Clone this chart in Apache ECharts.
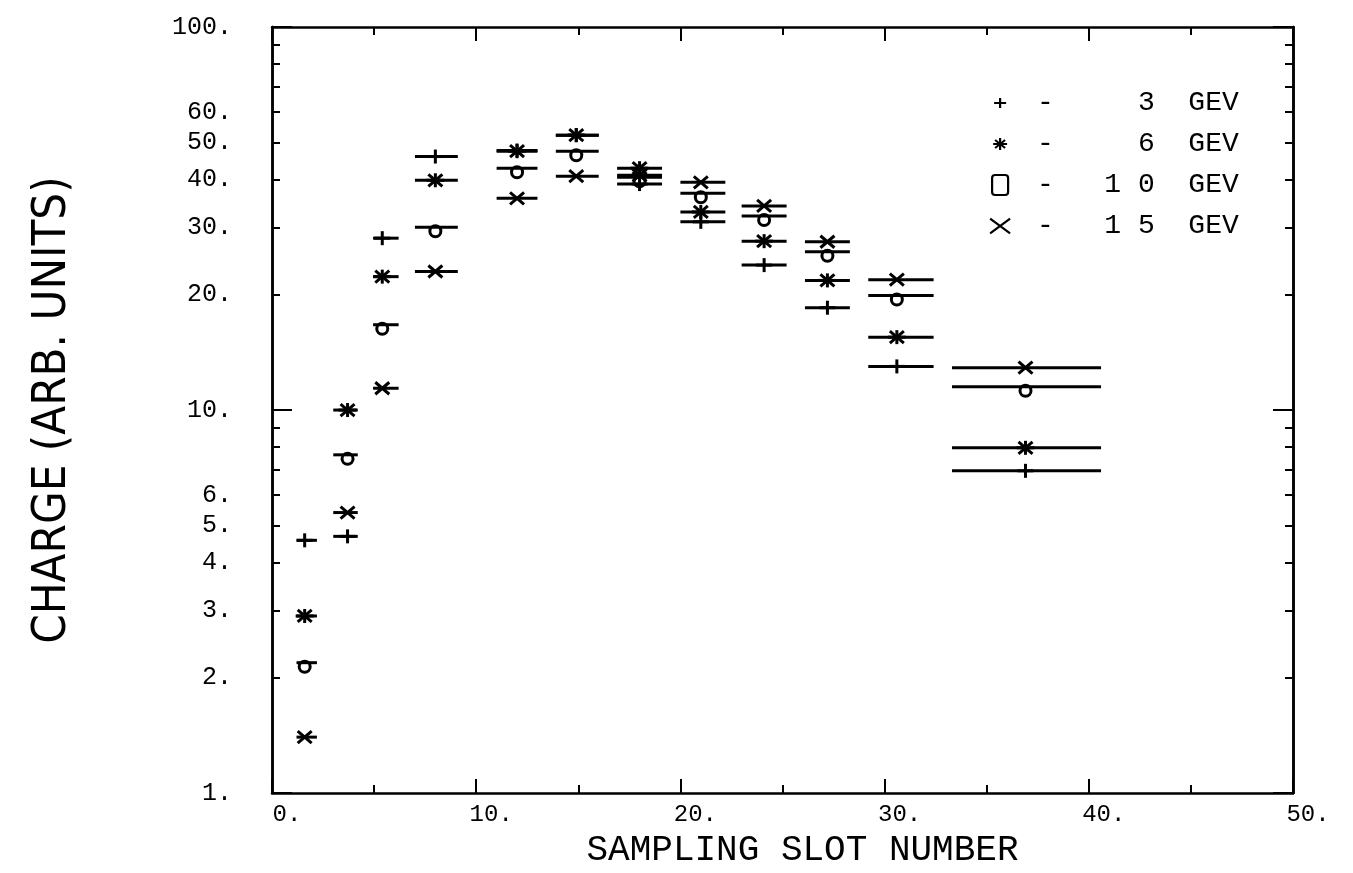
<!DOCTYPE html>
<html>
<head>
<meta charset="utf-8">
<script src="https://cdn.jsdelivr.net/npm/echarts@6/dist/echarts.min.js"></script>
<style>
  html, body { margin: 0; padding: 0; background: #fff; }
  #chart { width: 1353px; height: 873px; }
</style>
</head>
<body>
<div id="chart"></div>
<script>
// ---- data ----
const slotCenter = [1.6, 3.7, 5.4, 8.0, 12.0, 14.9, 18.0, 21.0, 24.1, 27.2, 30.6, 36.9];
const slotLow    = [1.2, 3.0, 4.95, 7.0, 11.0, 13.9, 16.9, 20.0, 23.0, 26.1, 29.2, 33.3];
const slotHigh   = [2.2, 4.2, 6.2, 9.1, 13.0, 16.0, 19.1, 22.2, 25.2, 28.3, 32.4, 40.6];

const charge3GeV  = [4.57, 4.68, 28.1, 45.9, 47.6, 52.2, 38.9, 31.0, 23.9, 18.5, 13.0, 6.94];
const charge6GeV  = [2.90, 10.0, 22.3, 39.8, 47.4, 52.2, 42.8, 32.9, 27.6, 21.8, 15.5, 7.97];
const charge10GeV = [2.19, 7.64, 16.7, 30.0, 42.8, 47.4, 40.5, 36.8, 32.1, 25.9, 19.9, 11.5];
const charge15GeV = [1.40, 5.40, 11.4, 23.0, 35.7, 40.8, 41.0, 39.3, 34.1, 27.5, 21.9, 12.9];

const seriesNames  = ['3 GEV', '6 GEV', '10 GEV', '15 GEV'];
const legendTexts  = ['-     3  GEV', '-     6  GEV', '-   1 0  GEV', '-   1 5  GEV'];
const markerKinds  = ['plus', 'star', 'circle', 'cross'];

const yLabelValues = [1, 2, 3, 4, 5, 6, 10, 20, 30, 40, 50, 60, 100];
const yMinorTicks  = [2, 3, 4, 5, 6, 7, 8, 9, 20, 30, 40, 50, 60, 70, 80, 90];

// ---- chart ----
const chart = echarts.init(document.getElementById('chart'), null, { renderer: 'canvas' });
const LW = 3;
const INK = '#000';

function makeData(vals) {
  return vals.map((v, i) => [slotCenter[i], v, slotLow[i], slotHigh[i]]);
}

function markerShapes(kind, x, y) {
  const st = { stroke: INK, lineWidth: LW, fill: 'none' };
  const L = (x1, y1, x2, y2) => ({ type: 'line', shape: { x1, y1, x2, y2 }, style: st });
  if (kind === 'plus') {
    return [L(x - 8, y, x + 8, y), L(x, y - 7, x, y + 7)];
  } else if (kind === 'star') {
    return [L(x, y - 7, x, y + 7), L(x - 7, y - 6, x + 7, y + 6), L(x - 7, y + 6, x + 7, y - 6), L(x - 9, y, x + 9, y)];
  } else if (kind === 'circle') {
    return [{ type: 'circle', shape: { cx: x, cy: y + 4, r: 5.5 }, style: st }];
  } else {
    return [L(x - 7, y - 6, x + 7, y + 6), L(x - 7, y + 6, x + 7, y - 6)];
  }
}

function makeRender(kind) {
  return function (params, api) {
    const p = api.coord([api.value(0), api.value(1)]);
    const a = api.coord([api.value(2), api.value(1)]);
    const b = api.coord([api.value(3), api.value(1)]);
    const children = [{
      type: 'line',
      shape: { x1: a[0], y1: p[1], x2: b[0], y2: p[1] },
      style: { stroke: INK, lineWidth: LW }
    }].concat(markerShapes(kind, p[0], p[1]));
    return { type: 'group', children };
  };
}

const allValues = [charge3GeV, charge6GeV, charge10GeV, charge15GeV];
const series = allValues.map((vals, k) => ({
  name: seriesNames[k],
  type: 'custom',
  coordinateSystem: 'cartesian2d',
  xAxisIndex: 0,
  yAxisIndex: 0,
  renderItem: makeRender(markerKinds[k]),
  encode: { x: [0, 2, 3], y: 1 },
  itemStyle: { color: INK },
  data: makeData(vals),
  silent: true,
  clip: false
}));

const legendIcons = [
  'path://M0,0M20,20M4,10L16,10M10,5L10,15',
  'path://M0,0M20,20M10,4L10,16M5,6L15,14M5,14L15,6M3,10L17,10',
  'path://M3,0L13,0Q16,0 16,3L16,17Q16,20 13,20L3,20Q0,20 0,17L0,3Q0,0 3,0Z',
  'path://M0,2L22,18M0,18L22,2'
];

const monoFont = '"Liberation Mono", "DejaVu Sans Mono", monospace';
const axisLineStyle = { color: INK, width: 2.5 };

const logAxisBase = {
  type: 'log', logBase: 10, min: 1, max: 100,
  splitLine: { show: false },
  axisLine: { show: true, lineStyle: axisLineStyle }
};

const option = {
  backgroundColor: '#fff',
  animation: false,
  grid: { left: 272, right: 60, top: 27, bottom: 76, containLabel: false },
  legend: {
    orient: 'vertical',
    left: 984,
    top: 84,
    itemWidth: 20,
    itemHeight: 20,
    itemGap: 13,
    selectedMode: false,
    textStyle: { fontFamily: monoFont, fontSize: 28, color: INK, padding: [0, 0, 0, 22] },
    formatter: function (name) { return legendTexts[seriesNames.indexOf(name)]; },
    data: seriesNames.map((n, k) => ({
      name: n,
      icon: legendIcons[k],
      itemStyle: { color: 'transparent', borderColor: INK, borderWidth: 2.2 }
    }))
  },
  xAxis: [{
    type: 'value', min: 0, max: 50, interval: 10,
    position: 'bottom',
    name: 'SAMPLING SLOT NUMBER',
    nameLocation: 'middle',
    nameGap: 36,
    nameTextStyle: { fontFamily: monoFont, fontSize: 36, color: INK, padding: [0, 0, 0, 40] },
    axisLine: { show: true, lineStyle: axisLineStyle, onZero: false },
    axisTick: { show: true, inside: true, length: 14, lineStyle: { color: INK, width: 2 } },
    minorTick: { show: true, splitNumber: 2, length: 8, lineStyle: { color: INK, width: 2 } },
    splitLine: { show: false },
    axisLabel: {
      formatter: v => v + '.', fontFamily: monoFont, fontSize: 24, color: INK,
      margin: 10, padding: [0, 0, 0, 30]
    }
  }, {
    type: 'value', min: 0, max: 50, interval: 10,
    position: 'top',
    axisLine: { show: true, lineStyle: axisLineStyle, onZero: false },
    axisTick: { show: true, inside: true, length: 14, lineStyle: { color: INK, width: 2 } },
    minorTick: { show: true, splitNumber: 2, length: 8, lineStyle: { color: INK, width: 2 } },
    splitLine: { show: false },
    axisLabel: { show: false }
  }],
  yAxis: [
    Object.assign({}, logAxisBase, {
      position: 'left',
      name: 'CHARGE (ARB. UNITS)',
      nameLocation: 'middle',
      nameGap: 196,
      nameTextStyle: { fontFamily: '"DejaVu Sans Condensed", "DejaVu Sans", sans-serif', fontSize: 47, color: INK },
      axisTick: { show: true, inside: true, length: 8, customValues: yMinorTicks, lineStyle: { color: INK, width: 2 } },
      axisLabel: {
        customValues: yLabelValues,
        formatter: v => v + '.', fontFamily: monoFont, fontSize: 25, color: INK, margin: 40
      }
    }),
    Object.assign({}, logAxisBase, {
      position: 'left',
      axisTick: { show: true, inside: true, length: 20, lineStyle: { color: INK, width: 2 } },
      axisLabel: { show: false }
    }),
    Object.assign({}, logAxisBase, {
      position: 'right',
      axisTick: { show: true, inside: true, length: 8, customValues: yMinorTicks, lineStyle: { color: INK, width: 2 } },
      axisLabel: { show: false }
    }),
    Object.assign({}, logAxisBase, {
      position: 'right',
      axisTick: { show: true, inside: true, length: 20, lineStyle: { color: INK, width: 2 } },
      axisLabel: { show: false }
    })
  ],
  series: series
};

chart.setOption(option);
</script>
</body>
</html>
